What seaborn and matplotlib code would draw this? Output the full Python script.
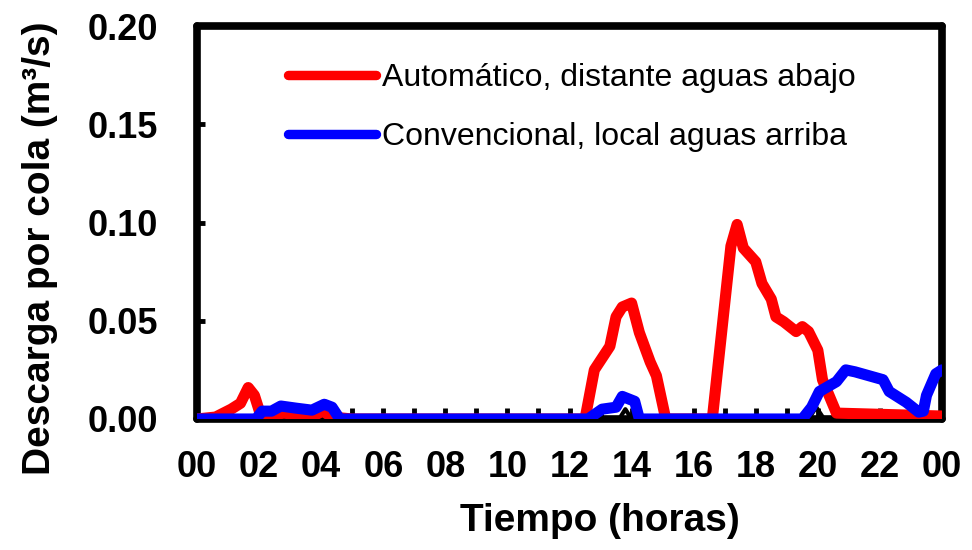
import numpy as np
import pandas as pd
import matplotlib
matplotlib.use("Agg")
import matplotlib.pyplot as plt
import seaborn as sns
from matplotlib.ticker import MultipleLocator

# ---- data (hours, m3/s) ----
red_label = "Automático, distante aguas abajo"
red_h = [0, 0.6, 1.1, 1.4, 1.65, 1.85, 2.05, 2.4, 2.8, 3.3, 3.8, 4.05, 4.35, 5.0,
         12.5, 12.8, 13.3, 13.5, 13.7, 14.0, 14.25, 14.6, 14.8, 15.1,
         16.6, 17.2, 17.4, 17.6, 18.0, 18.2, 18.5, 18.65, 18.9, 19.3, 19.5, 19.7,
         20.0, 20.15, 20.6, 24.0]
red_v = [0, 0.001, 0.005, 0.008, 0.016, 0.012, 0.002, 0.002, 0.003, 0.002, 0.002, 0.004, 0.001, 0,
         0, 0.025, 0.037, 0.052, 0.057, 0.059, 0.044, 0.029, 0.022, 0,
         0, 0.088, 0.099, 0.087, 0.080, 0.069, 0.061, 0.052, 0.0495, 0.0445, 0.047, 0.0445,
         0.035, 0.020, 0.003, 0.0015]

blue_label = "Convencional, local aguas arriba"
blue_h = [0, 1.9, 2.1, 2.4, 2.7, 3.2, 3.7, 4.1, 4.35, 4.6,
          12.6, 13.05, 13.5, 13.7, 14.1, 14.25,
          19.5, 19.8, 20.05, 20.6, 20.9, 21.2, 21.65, 22.1, 22.3, 22.85, 23.25, 23.4, 23.5, 23.8, 24.0]
blue_v = [0, 0, 0.004, 0.004, 0.0066, 0.0055, 0.0045, 0.0075, 0.006, 0,
          0, 0.005, 0.006, 0.0115, 0.009, 0,
          0, 0.006, 0.014, 0.019, 0.025, 0.024, 0.022, 0.020, 0.014, 0.0085, 0.0035, 0.004, 0.012, 0.023, 0.025]

black_h = [0, 13.6, 13.8, 14.0, 19.7, 19.95, 20.2, 24.0]
black_v = [0, 0, 0.005, 0, 0, 0.006, 0, 0]

x_ticks = list(range(0, 25, 2))
x_ticklabels = ["00", "02", "04", "06", "08", "10", "12", "14", "16", "18", "20", "22", "00"]
y_ticks = [0.00, 0.05, 0.10, 0.15, 0.20]
y_ticklabels = ["0.00", "0.05", "0.10", "0.15", "0.20"]

xlabel = "Tiempo (horas)"
ylabel = "Descarga por cola (m³/s)"

# ---- style ----
sns.set_style("white")
plt.rcParams["font.family"] = ["Liberation Sans", "DejaVu Sans"]
plt.rcParams["text.color"] = "black"
plt.rcParams["axes.labelcolor"] = "black"
plt.rcParams["xtick.color"] = "black"
plt.rcParams["ytick.color"] = "black"

fig = plt.figure(figsize=(9.72, 5.5), dpi=100)
ax = fig.add_axes([197 / 972, 1 - 419 / 550, (942 - 197) / 972, (419 - 26) / 550])

df_red = pd.DataFrame({"h": red_h, "v": red_v})
df_blue = pd.DataFrame({"h": blue_h, "v": blue_v})
df_black = pd.DataFrame({"h": black_h, "v": black_v})

LW = 8.0
sns.lineplot(data=df_black, x="h", y="v", ax=ax, color="black", legend=False,
             estimator=None, sort=False, linewidth=3)
sns.lineplot(data=df_red, x="h", y="v", ax=ax, color="#ff0000", label=red_label,
             estimator=None, sort=False, linewidth=LW)
sns.lineplot(data=df_blue, x="h", y="v", ax=ax, color="#0000ff", label=blue_label,
             estimator=None, sort=False, linewidth=LW)

for ln in ax.lines:
    c = matplotlib.colors.to_hex(ln.get_color())
    if c == "#000000":
        ln.set_zorder(2)
    elif c == "#ff0000":
        ln.set_zorder(3)
    else:
        ln.set_zorder(4)
    ln.set_solid_capstyle("round")
    ln.set_solid_joinstyle("round")

ax.set_xlim(0, 24)
ax.set_ylim(0, 0.20)
ax.set_xticks(x_ticks)
ax.set_xticklabels(x_ticklabels)
ax.xaxis.set_minor_locator(MultipleLocator(1))
ax.set_yticks(y_ticks)
ax.set_yticklabels(y_ticklabels)

for lbl in ax.get_xticklabels() + ax.get_yticklabels():
    lbl.set_fontweight("bold")
    lbl.set_fontsize(26)
    lbl.set_color("black")

ax.tick_params(axis="x", which="both", direction="in", length=8, width=3.5, pad=22,
               bottom=True, top=False, color="black")
ax.tick_params(axis="y", which="major", direction="in", length=6, width=3.5, pad=28,
               left=True, right=False, color="black")

for s in ax.spines.values():
    s.set_linewidth(5.5)
    s.set_color("black")
    s.set_capstyle("round")
    s.set_joinstyle("round")
    s.set_zorder(1)

ax.set_xlabel(xlabel, fontsize=28, fontweight="bold", color="black")
ax.set_ylabel(ylabel, fontsize=28, fontweight="bold", color="black")
ax.xaxis.set_label_coords((600 - 197) / 745, (419 - 503) / 393)
ax.yaxis.set_label_coords((58 - 197) / 745, (419 - 248) / 393)

ax.grid(False)
leg = ax.legend(loc="upper left", bbox_to_anchor=((288 - 197) / 745, (419 - 63) / 393),
                frameon=False, fontsize=23, handlelength=2.75, handletextpad=0.2,
                labelspacing=0.92, borderpad=0, borderaxespad=0)
for ln in leg.get_lines():
    ln.set_linewidth(6.8)
    ln.set_solid_capstyle("round")
for t in leg.get_texts():
    t.set_color("black")

fig.savefig("out.png", dpi=100, facecolor="white")
